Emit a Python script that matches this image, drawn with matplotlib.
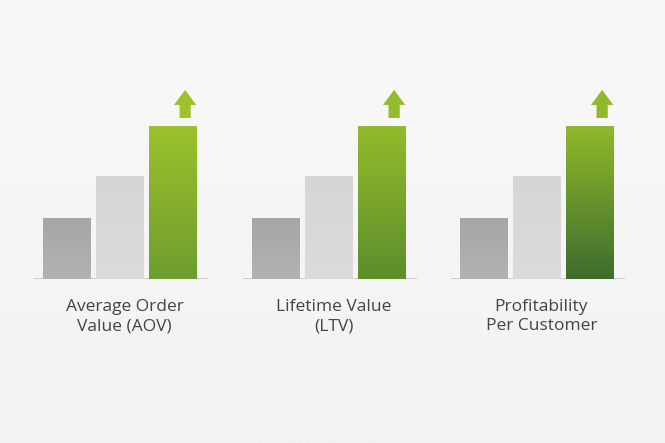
import matplotlib.pyplot as plt
import numpy as np
from matplotlib.colors import LinearSegmentedColormap

# data: relative level of each metric (before, middle, after)
groups = ['Average Order\nValue (AOV)', 'Lifetime Value\n(LTV)', 'Profitability\nPer Customer']
values = [[40, 67, 100], [40, 67, 100], [40, 67, 100]]

# top / bottom colours of the green bar for each group
green_top = ['#9dc22c', '#92bc2b', '#8fba2b']
green_bottom = ['#6d9d2e', '#5d8e2c', '#3f6c2d']
gray_colors = [('#a6a6a6', '#b2b2b2'), ('#d6d6d6', '#dcdcdc')]

plt.rcParams['font.family'] = ['Open Sans', 'DejaVu Sans']

fig = plt.figure(figsize=(6.65, 4.43), dpi=100)

# soft background
bg = fig.add_axes([0, 0, 1, 1])
grad = np.linspace(0, 1, 256).reshape(-1, 1)
bg.imshow(grad, aspect='auto', extent=[0, 1, 0, 1],
          cmap=LinearSegmentedColormap.from_list('bg', ['#f9f9f9', '#f2f2f2']))
bg.set_axis_off()


def gradient_bar(ax, bar, c_top, c_bottom):
    x0, y0 = bar.get_x(), bar.get_y()
    w, h = bar.get_width(), bar.get_height()
    cmap = LinearSegmentedColormap.from_list('g', [c_bottom, c_top])
    img = ax.imshow(np.linspace(0, 1, 128).reshape(-1, 1), cmap=cmap, origin='lower',
                    extent=[x0, x0 + w, y0, y0 + h], aspect='auto', zorder=2)
    img.set_clip_path(bar)
    bar.set_facecolor('none')


left_px = [34, 243, 451]
for i, label in enumerate(groups):
    ax = fig.add_axes([left_px[i] / 665, 164 / 443, 174 / 665, 199 / 443])
    ax.patch.set_alpha(0)
    xs = np.arange(3)
    bars = ax.bar(xs, values[i], width=0.9, edgecolor='none', zorder=2)
    gradient_bar(ax, bars[0], gray_colors[0][0], gray_colors[0][1])
    gradient_bar(ax, bars[1], gray_colors[1][0], gray_colors[1][1])
    gradient_bar(ax, bars[2], green_top[i], green_bottom[i])
    ax.axhline(0, color='#c8c8c8', lw=1.2, zorder=1)
    # arrow above the tallest bar
    top = values[i][2]
    ax.arrow(2.22, top + 5.2, 0, 18.3, width=0.21, head_width=0.42,
             head_length=9.8, length_includes_head=True,
             color=green_top[i], lw=0, zorder=3)
    ax.set_xlim(-0.62, 2.65)
    ax.set_ylim(0, 130)
    ax.set_axis_off()
    ax.text(1.08, -13, label, ha='center', va='top', fontsize=12.5,
            color='#444444', linespacing=1.3)

fig.savefig('out.png', dpi=100)
